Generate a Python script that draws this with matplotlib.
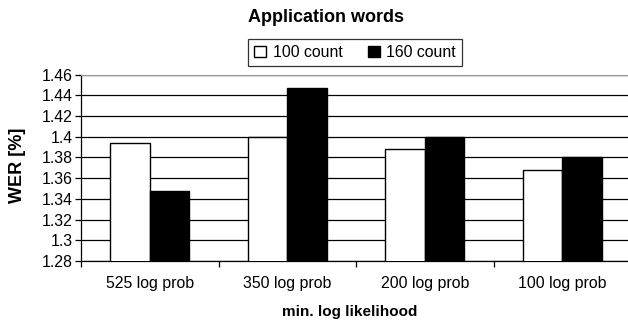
import matplotlib
matplotlib.use('Agg')
import matplotlib.pyplot as plt
from matplotlib.ticker import FixedLocator
import numpy as np

categories = ['525 log prob', '350 log prob', '200 log prob', '100 log prob']
count_100 = [1.394, 1.400, 1.388, 1.368]
count_160 = [1.348, 1.447, 1.400, 1.380]
series_names = ['100 count', '160 count']
y_ticks = [1.28, 1.30, 1.32, 1.34, 1.36, 1.38, 1.40, 1.42, 1.44, 1.46]
y_tick_labels = ['1.28', '1.3', '1.32', '1.34', '1.36', '1.38', '1.4', '1.42', '1.44', '1.46']

plt.rcParams['font.family'] = ['Liberation Sans', 'DejaVu Sans']

W, H = 628, 323
fig = plt.figure(figsize=(W / 100, H / 100), dpi=100)
ax = fig.add_axes([81 / W, 1 - 261 / H, 550 / W, (261 - 74.5) / H])

x = np.arange(len(categories))
bw = 0.287
ax.bar(x - bw / 2, count_100, bw, bottom=0, color='white', edgecolor='black', linewidth=1.0, zorder=3, label=series_names[0])
ax.bar(x + bw / 2, count_160, bw, bottom=0, color='black', edgecolor='black', linewidth=1.0, zorder=3, label=series_names[1])

ax.set_xlim(-0.5, 3.5)
ax.set_ylim(1.28, 1.46)
ax.set_yticks(y_ticks)
ax.set_yticklabels(y_tick_labels)
ax.yaxis.grid(True, color='black', linewidth=0.9, zorder=0)
ax.set_axisbelow(True)

# labels sit under the category centres, tick marks on the boundaries
ax.set_xticks(x)
ax.set_xticklabels(categories)
ax.xaxis.set_minor_locator(FixedLocator([-0.5, 0.5, 1.5, 2.5]))
ax.tick_params(axis='x', which='major', length=0, pad=11, labelsize=11.4)
ax.tick_params(axis='x', which='minor', length=4, width=0.9, direction='out')
ax.tick_params(axis='y', length=4, width=0.9, direction='out', pad=2, labelsize=11.4)

ax.spines['right'].set_visible(False)
ax.spines['top'].set_color('#999999')
ax.spines['left'].set_linewidth(0.9)
ax.spines['bottom'].set_linewidth(0.9)

fig.text(326 / W, 1 - 18 / H, 'Application words', ha='center', va='center', fontsize=13, fontweight='bold')
fig.text(17 / W, 1 - 165 / H, 'WER [%]', ha='center', va='center', rotation=90, fontsize=13, fontweight='bold')
fig.text(350 / W, 1 - 312 / H, 'min. log likelihood', ha='center', va='center', fontsize=11, fontweight='bold')

leg = fig.legend(loc='center', bbox_to_anchor=(355 / W, 1 - 52.5 / H), ncol=2, fontsize=11.4,
                 frameon=True, fancybox=False, edgecolor='black', handlelength=0.75, handleheight=0.75,
                 handletextpad=0.4, columnspacing=1.6, borderpad=0.4)
leg.get_frame().set_linewidth(0.9)

fig.savefig('out.png', dpi=100)
